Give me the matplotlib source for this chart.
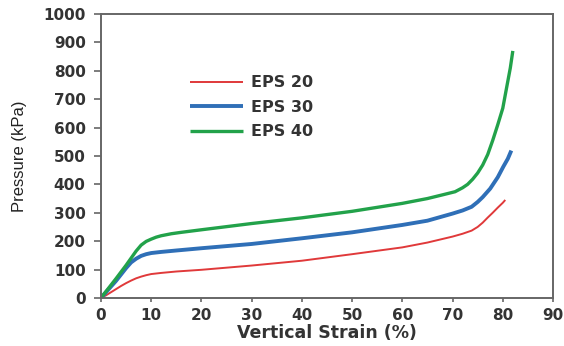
import matplotlib
matplotlib.use("Agg")
import matplotlib.pyplot as plt
import numpy as np

# Data
eps20_x = [0, 1, 2, 3, 4, 5, 6, 7, 8, 9, 10, 12, 15, 20, 30, 40, 50, 60, 65, 70, 72, 73.8,
           75, 76, 77, 78, 79, 80, 80.5]
eps20_y = [0, 9, 20, 31, 42, 52, 61, 69, 75, 80, 84, 88, 93, 99, 114, 131, 154, 178, 195, 216, 226, 237,
           250, 265, 283, 300, 318, 335, 345]

eps30_x = [0, 3, 5, 6, 7, 8, 9, 10, 12, 15, 20, 30, 40, 50, 60, 65, 70, 72, 73.8,
           75, 76, 77.5, 79, 80.1, 81, 81.7]
eps30_y = [0, 60, 105, 125, 138, 148, 154, 158, 162, 167, 175, 190, 210, 231, 257, 272, 297, 308, 321,
           338, 355, 385, 425, 462, 490, 519]

eps40_x = [0, 3, 5, 6, 7, 8, 9, 10, 11, 12, 14, 16, 20, 30, 40, 50, 60, 65, 68, 70.5,
           72, 73, 74, 75, 76, 77, 78, 79, 80, 80.8, 81.5, 82]
eps40_y = [0, 68, 115, 140, 165, 186, 199, 207, 214, 219, 226, 231, 240, 262, 282, 305, 333, 350, 363, 374,
           388, 400, 418, 440, 468, 505, 555, 610, 668, 744, 810, 870]

labels = ["EPS 20", "EPS 30", "EPS 40"]
colors = ["#e0393a", "#2f6fb7", "#22a24a"]
widths = [1.4, 2.8, 2.4]

fig = plt.figure(figsize=(5.64, 3.46), dpi=100)
ax = fig.add_axes([0.179, 0.139, 0.8015, 0.8205])

series = [(eps20_x, eps20_y), (eps30_x, eps30_y), (eps40_x, eps40_y)]
for (x, y), lab, c, w in zip(series, labels, colors, widths):
    ax.plot(x, y, color=c, lw=w, label=lab, solid_capstyle='butt', solid_joinstyle='round')

ax.set_xlim(0, 90)
ax.set_ylim(0, 1000)
ax.set_xticks(np.arange(0, 91, 10))
ax.set_yticks(np.arange(0, 1001, 100))

for s in ax.spines.values():
    s.set_color("#666666")
    s.set_linewidth(1.4)

ax.tick_params(direction='out', width=1.2, color="#666666",
               labelsize=11, labelcolor="#333333")
ax.tick_params(axis='y', length=5, pad=6)
ax.tick_params(axis='x', length=3, pad=4)
for lbl in ax.get_xticklabels() + ax.get_yticklabels():
    lbl.set_fontweight('bold')

ax.set_xlabel("Vertical Strain (%)", fontsize=12.5, fontweight='bold', color="#333333", labelpad=1)
ax.set_ylabel("Pressure (kPa)", fontsize=12, color="#222222", labelpad=12,
              family=['Liberation Sans', 'DejaVu Sans'])

leg = ax.legend(loc='upper left', bbox_to_anchor=(0.165, 0.835), frameon=False,
                handlelength=3.3, handletextpad=0.5, labelspacing=0.6,
                prop={'weight': 'bold', 'size': 11.5})
for t in leg.get_texts():
    t.set_color("#333333")

fig.savefig("out.png", dpi=100)
